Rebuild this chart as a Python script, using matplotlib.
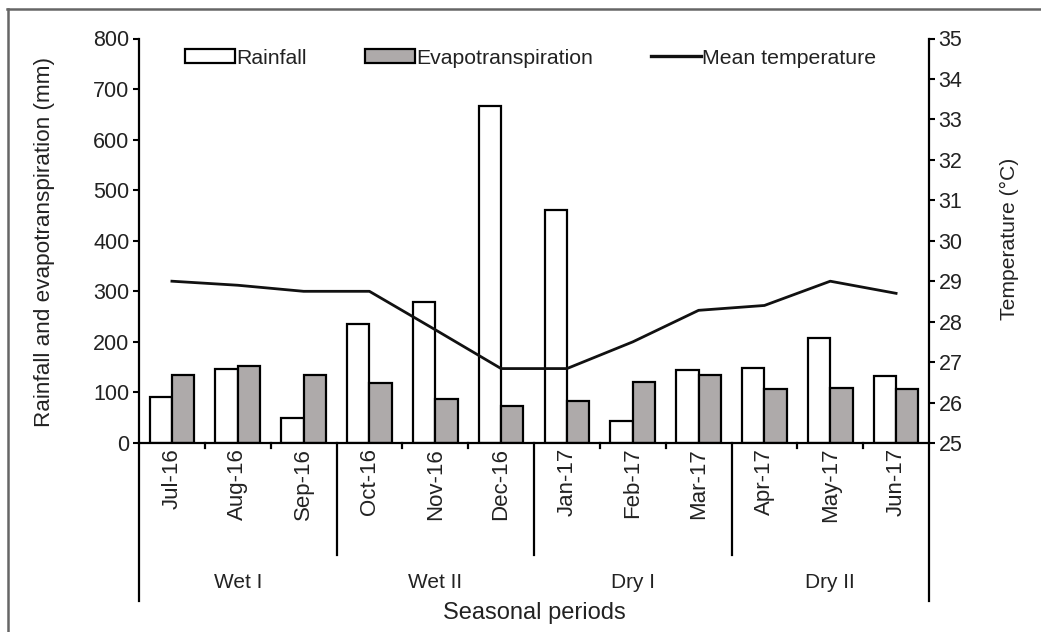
import matplotlib
matplotlib.use("Agg")
import matplotlib.pyplot as plt
import matplotlib.transforms as mtransforms
from matplotlib.lines import Line2D
from matplotlib.patches import Patch
import numpy as np

plt.rcParams['font.family'] = ['Liberation Sans', 'DejaVu Sans']

months = ["Jul-16", "Aug-16", "Sep-16", "Oct-16", "Nov-16", "Dec-16",
          "Jan-17", "Feb-17", "Mar-17", "Apr-17", "May-17", "Jun-17"]
rainfall = [90, 146, 50, 235, 278, 667, 460, 44, 144, 148, 208, 133]
evapotranspiration = [134, 153, 134, 119, 87, 73, 84, 121, 134, 107, 109, 107]
temperature = [29.0, 28.9, 28.75, 28.75, 27.8, 26.84, 26.84, 27.5, 28.28, 28.4, 29.0, 28.7]
seasons = ["Wet I", "Wet II", "Dry I", "Dry II"]
season_len = [3, 3, 3, 3]

TXT = "#222222"
GREY = "#aeaaaa"

fig = plt.figure(figsize=(10.41, 6.32), dpi=100)
ax = fig.add_axes([139/1041, 1-443/632, (929-139)/1041, (443-38.5)/632])
ax2 = ax.twinx()

x = np.arange(len(months)) + 0.5
w = 0.34
ax.bar(x - w/2, rainfall, w, color="white", edgecolor="black", linewidth=1.6, zorder=2)
ax.bar(x + w/2, evapotranspiration, w, color=GREY, edgecolor="black", linewidth=1.6, zorder=2)
ax2.plot(x, temperature, color="#111111", linewidth=2.0, zorder=3)

ax.set_xlim(0, len(months))
ax.set_ylim(0, 800)
ax.set_yticks(range(0, 801, 100))
ax2.set_ylim(25, 35)
ax2.set_yticks(range(25, 36))

for a in (ax, ax2):
    a.spines['top'].set_visible(False)
    for s in a.spines.values():
        s.set_linewidth(1.6)
    a.tick_params(axis='y', direction='out', length=4, width=1.5, labelsize=15.5,
                  labelcolor=TXT, color='black', pad=3)
ax2.spines['left'].set_visible(False)
ax2.spines['bottom'].set_visible(False)
ax.spines['right'].set_visible(False)

ax.set_xticks([])
trans = mtransforms.blended_transform_factory(ax.transData, ax.transAxes)

# month labels
for xi, m in zip(x, months):
    ax.text(xi, -0.012, m, rotation=90, ha='center', va='top', fontsize=16,
            color=TXT, transform=trans)

# small month tick marks and group separators
bounds = np.cumsum([0] + season_len)
for b in range(1, len(months)):
    if b in bounds:
        ax.add_line(Line2D([b, b], [0, -0.277], transform=trans, color='black',
                           linewidth=1.6, clip_on=False))
    else:
        ax.add_line(Line2D([b, b], [0, -0.012], transform=trans, color='black',
                           linewidth=1.6, clip_on=False))
for b in (0, len(months)):
    ax.add_line(Line2D([b, b], [0, -0.39], transform=trans, color='black',
                       linewidth=1.6, clip_on=False))

for i, s in enumerate(seasons):
    c = (bounds[i] + bounds[i+1]) / 2
    ax.text(c, -0.344, s, ha='center', va='center', fontsize=15, color=TXT,
            transform=trans)

fig.text(534/1041, 1-619/632, "Seasonal periods", ha='center', va='baseline',
         fontsize=17, color=TXT)

fig.text(45/1041, 1-242/632, "Rainfall and evapotranspiration (mm)", rotation=90,
         ha='center', va='center', fontsize=16.2, color=TXT)
fig.text(1009/1041, 1-239/632, "Temperature (\u00b0C)", rotation=90,
         ha='center', va='center', fontsize=15.2, color=TXT)

handles = [Patch(facecolor='white', edgecolor='black', linewidth=1.6),
           Patch(facecolor=GREY, edgecolor='black', linewidth=1.6),
           Line2D([], [], color='#111111', linewidth=2.4)]
labels = ["Rainfall", "Evapotranspiration", "Mean temperature"]
leg = fig.legend(handles, labels, ncol=3, loc='center left',
                 bbox_to_anchor=(185/1041, 1-58/632), frameon=False,
                 fontsize=15.3, handlelength=2.35, handleheight=0.62,
                 handletextpad=0.05, columnspacing=2.75, borderpad=0,
                 borderaxespad=0)
for t in leg.get_texts():
    t.set_color(TXT)

# outer frame (left and top border)
fig.add_artist(Line2D([7.5/1041, 7.5/1041], [0, 1-9/632], transform=fig.transFigure,
                      color='#666666', linewidth=1.8))
fig.add_artist(Line2D([7/1041, 1], [1-9/632, 1-9/632], transform=fig.transFigure,
                      color='#666666', linewidth=1.8))

fig.savefig("out.png", dpi=100)
